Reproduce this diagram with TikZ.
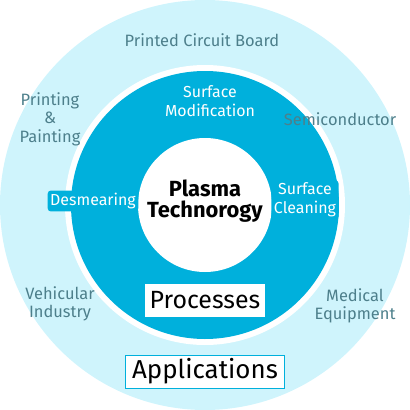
\documentclass[tikz,border=0pt]{standalone}
\usepackage{fontspec}
\setmainfont{Fira Sans}
\usetikzlibrary{positioning}
\definecolor{appbg}{HTML}{CFF4FC}
\definecolor{procbg}{HTML}{00B0DC}
\definecolor{apptxt}{HTML}{4D7F8B}
\tikzset{app/.style={text=apptxt,align=center,inner sep=0pt,
           font=\fontsize{16.5}{18.5}\selectfont},
         proc/.style={text=white,align=center,inner sep=0pt,
           font=\fontsize{16}{19}\selectfont},
         halo/.style={proc,fill=procbg,rounded corners=3bp,inner sep=2.5bp},
         core/.style={align=center,inner sep=0pt,
           font=\bfseries\fontsize{22}{21}\selectfont},
         title/.style={fill=white,inner xsep=5bp,inner ysep=3bp,minimum height=33bp,
           font=\fontsize{25}{26}\selectfont}
}

\begin{document}
\begin{tikzpicture}[x=1bp,y=1bp]
\useasboundingbox (-205,-205) rectangle (205,205);

% rings
\fill[appbg] (0,0) circle (205);
\fill[white] (0,0) circle (140);
\fill[procbg] (0,0) circle (134);
\fill[white] (0,0) circle (67);

% applications
\node[app] (pcb) at (-3,165) {Printed Circuit Board};
\node[app] (print) at (-155,86) {Printing\\\&\\Painting};
\node[app] (semi) at (135,86) {Semiconductor};
\node[app] (vehicle) at (-145,-99) {Vehicular\\Industry};
\node[app] (medical) at (150,-101) {Medical\\Equipment};

% processes
\node[proc] (modif) at (5,104) {Surface\\Modification};
\node[halo] (desmear) at (-112,4) {Desmearing};
\node[halo] (clean) at (100,5) {Surface\\Cleaning};
\node[core] (plasma) at (0,4) {Plasma\\Technorogy};

% titles
\node[title] (procs) at (0,-95) {Processes};
\node[title,draw=procbg,line width=1bp,inner xsep=7bp,
      font=\fontsize{26}{26}\selectfont] (apps) at (0,-166.5) {Applications};

\end{tikzpicture}
\end{document}
